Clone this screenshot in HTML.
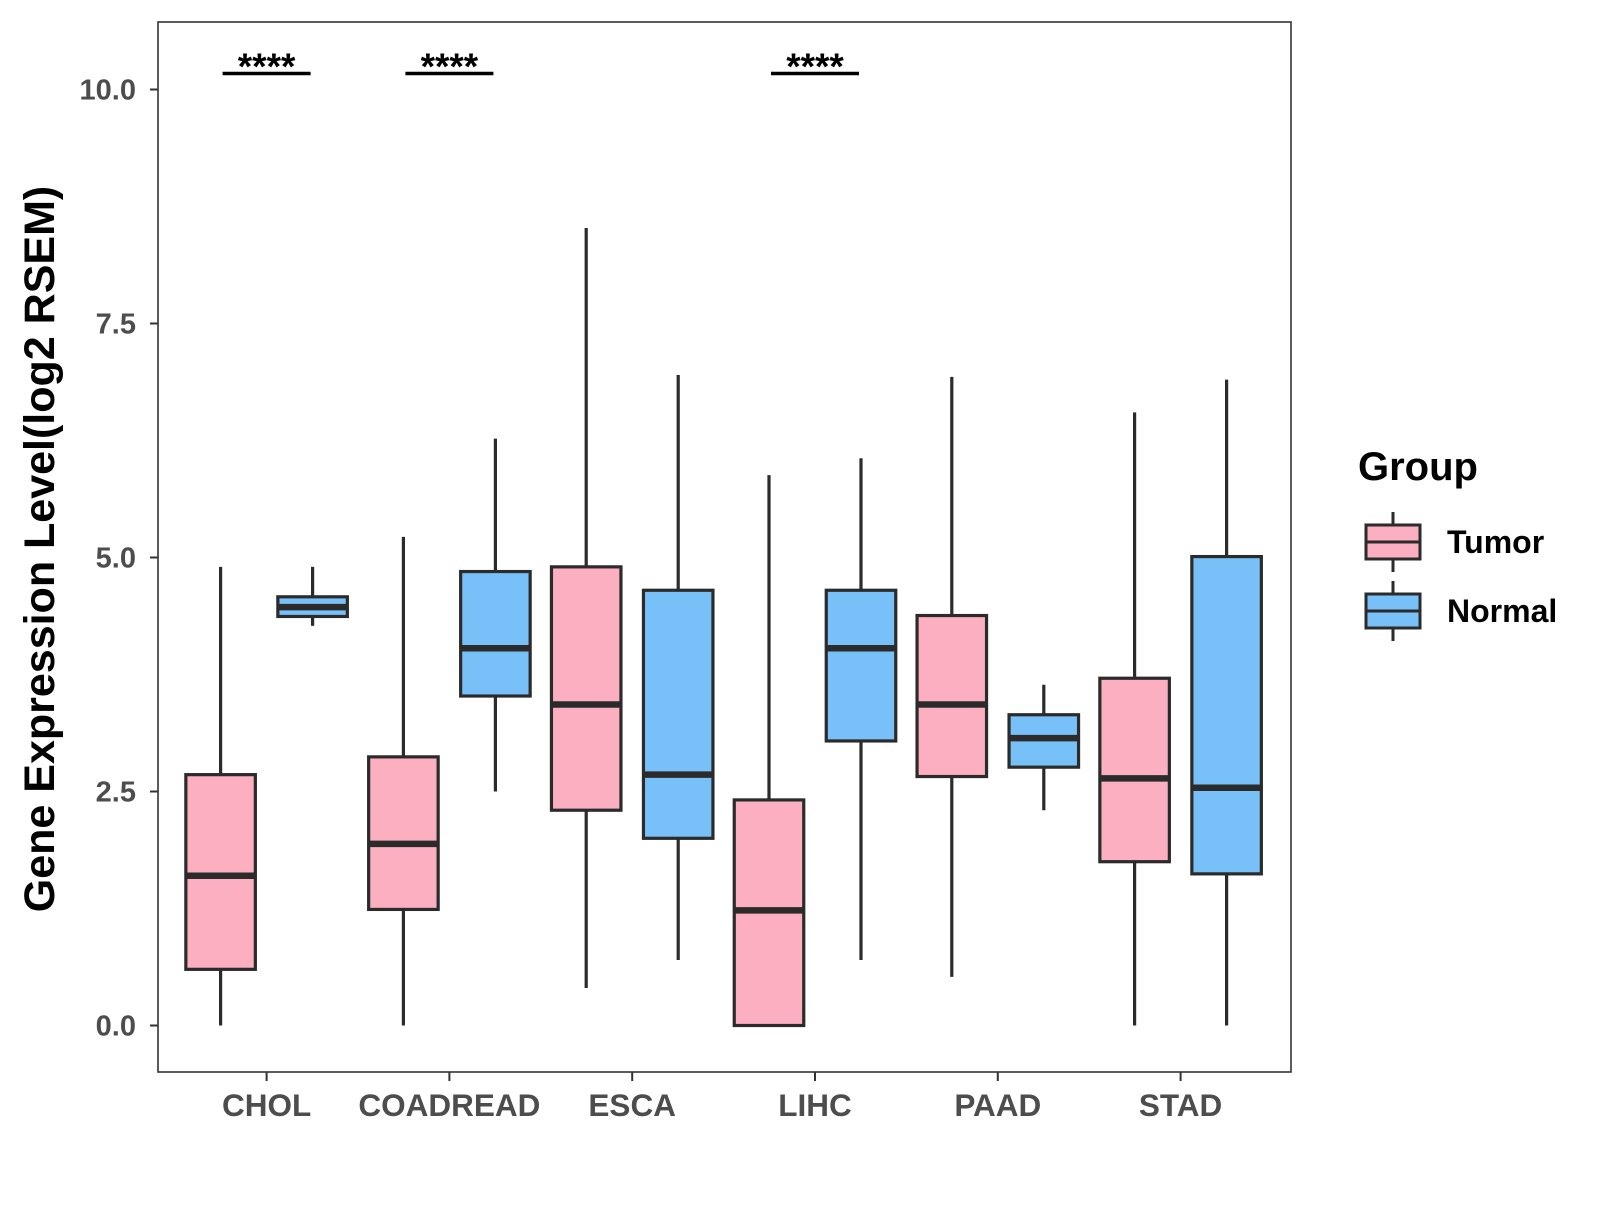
<!DOCTYPE html>
<html><head><meta charset="utf-8"><style>
body{margin:0;background:#fff}
svg{font-family:"Liberation Sans",sans-serif;font-weight:bold}
</style></head><body>
<svg id="chart" width="1600" height="1200"></svg>
<script>
const categories=["CHOL","COADREAD","ESCA","LIHC","PAAD","STAD"];
const tumorStats=[[0,0.6,1.6,2.68,4.9],[0,1.24,1.94,2.87,5.22],[0.4,2.3,3.43,4.9,8.52],[0,0,1.23,2.41,5.88],[0.52,2.66,3.43,4.38,6.93],[0,1.75,2.64,3.71,6.55]];
const normalStats=[[4.27,4.37,4.47,4.58,4.9],[2.5,3.52,4.03,4.85,6.27],[0.7,2.0,2.68,4.65,6.95],[0.7,3.04,4.03,4.65,6.06],[2.3,2.76,3.07,3.32,3.64],[0,1.62,2.54,5.01,6.9]];
const yTicks=[0,2.5,5,7.5,10];
const yTickLabels=["0.0","2.5","5.0","7.5","10.0"];
const sigCats=["CHOL","COADREAD","LIHC"];
const sigLabels=["****","****","****"];
const NS="http://www.w3.org/2000/svg";
const svg=document.getElementById('chart');
const L=158,R=1291,T=22,B=1072;
const y=v=>1025.5-v*93.6;
const xc=i=>266.6+i*182.8;
function mk(t,a,txt){const e=document.createElementNS(NS,t);for(const k in a)e.setAttribute(k,a[k]);if(txt!==undefined)e.textContent=txt;svg.appendChild(e);return e;}
let e=mk('rect',{x:L,y:T,width:R-L,height:B-T,fill:'#fff',stroke:'#333','stroke-width':1.6});


yTicks.forEach((t,i)=>{
 let l=mk('line',{x1:L-8,x2:L,y1:y(t),y2:y(t),stroke:'#333','stroke-width':2});
 
 
 let tx=mk('text',{x:L-22,y:y(t)+10,'text-anchor':'end','font-size':29,fill:'#4d4d4d'},yTickLabels[i]);
 
 
});
categories.forEach((c,i)=>{
 let l=mk('line',{x1:xc(i),x2:xc(i),y1:B,y2:B+9,stroke:'#333','stroke-width':2});
 
 
 let tx=mk('text',{x:xc(i),y:1116,'text-anchor':'middle','font-size':31.5,fill:'#4d4d4d'},c);
 
 
});
function box(cx,s,fill,name){
 const w=69.5;
 let wl=mk('line',{x1:cx,x2:cx,y1:y(s[0]),y2:y(s[4]),stroke:'#2b2b2b','stroke-width':3.2});
 
 
 let r=mk('rect',{x:cx-w/2,y:y(s[3]),width:w,height:y(s[1])-y(s[3]),fill:fill,stroke:'#2b2b2b','stroke-width':3.2});
 
 
 let m=mk('line',{x1:cx-w/2,x2:cx+w/2,y1:y(s[2]),y2:y(s[2]),stroke:'#2b2b2b','stroke-width':6.5});
 
 
}
categories.forEach((c,i)=>{
 box(xc(i)-46,tumorStats[i],'#fbafc1',c.toLowerCase()+'-tumor');
 box(xc(i)+46,normalStats[i],'#77c1f8',c.toLowerCase()+'-normal');
});
sigCats.forEach((c,k)=>{
 const i=categories.indexOf(c);
 let l=mk('line',{x1:xc(i)-44,x2:xc(i)+44,y1:73.5,y2:73.5,stroke:'#000','stroke-width':3.5});
 
 
 let t=mk('text',{x:xc(i),y:79,'text-anchor':'middle','font-size':37,fill:'#000'},sigLabels[k]);
 
 
});
let yt=mk('text',{x:0,y:0,transform:'translate(54,549) rotate(-90)','text-anchor':'middle','font-size':43,fill:'#000'},'Gene Expression Level(log2 RSEM)');


let lg=mk('text',{x:1358,y:480,'font-size':40,fill:'#000'},'Group');


[['Tumor','#fbafc1',542],['Normal','#77c1f8',611]].forEach(([n,f,cy])=>{
 let w=mk('line',{x1:1393,x2:1393,y1:cy-30,y2:cy+30,stroke:'#2b2b2b','stroke-width':3});
 
 
 let r=mk('rect',{x:1366,y:cy-17,width:54,height:34,fill:f,stroke:'#2b2b2b','stroke-width':3});
 
 
 let m=mk('line',{x1:1366,x2:1420,y1:cy,y2:cy,stroke:'#2b2b2b','stroke-width':3});
 
 
 let t=mk('text',{x:1447,y:cy+11,'font-size':32,fill:'#000'},n);
 
 
});
</script>
</body></html>
